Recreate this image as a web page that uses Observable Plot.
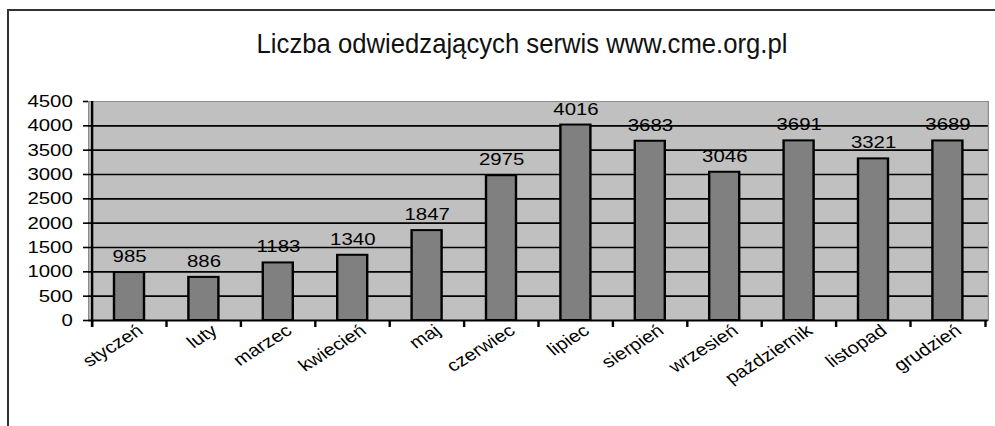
<!DOCTYPE html>
<html><head><meta charset="utf-8">
<script src="https://cdn.jsdelivr.net/npm/d3@7"></script>
<script src="https://cdn.jsdelivr.net/npm/@observablehq/plot@0.6"></script>
<style>
html,body{margin:0;padding:0;background:#fff;}
#wrap{position:relative;width:995px;height:426px;overflow:hidden;font-family:"Liberation Sans",Arial,sans-serif;}
#border{position:absolute;left:7px;top:9px;width:1100px;height:600px;border-left:2px solid #333;border-top:2px solid #333;}
#title{position:absolute;left:522px;top:30px;font-size:28px;line-height:28px;white-space:nowrap;color:#111;transform:translateX(-50%) scaleX(0.917);}
#chart{position:absolute;left:0;top:0;transform:scaleX(1.2);transform-origin:0 0;}
</style></head><body>
<div id="wrap"><div id="border"></div><div id="chart"></div><div id="title">Liczba odwiedzających serwis www.cme.org.pl</div></div>
<script>
const months = ["styczeń","luty","marzec","kwiecień","maj","czerwiec","lipiec","sierpień","wrzesień","październik","listopad","grudzień"];
const visitors = [985, 886, 1183, 1340, 1847, 2975, 4016, 3683, 3046, 3691, 3321, 3689];
const yTicks = [0, 500, 1000, 1500, 2000, 2500, 3000, 3500, 4000, 4500];

const data = months.map((m, i) => ({month: m, value: visitors[i]}));
const gridTicks = yTicks.filter(v => v > 0 && v < 4500);
const yMax = yTicks[yTicks.length - 1];

const STRETCH = 1.2;
const W = Math.round(995 / STRETCH);
const mL = 88 / STRETCH, mR = 7 / STRETCH;
const half = (W - mL - mR) / months.length / 2;
const lineStyle = {stroke: "black", strokeWidth: 2};

const chart = Plot.plot({
  width: W, height: 426,
  marginLeft: mL, marginRight: mR, marginTop: 101, marginBottom: 106,
  style: {fontFamily: "'Liberation Sans', Arial, sans-serif", color: "black", background: "transparent", overflow: "visible"},
  x: {domain: months, paddingInner: 0.6, paddingOuter: 0.3},
  y: {domain: [0, yMax]},
  marks: [
    Plot.frame({fill: "#c0c0c0", stroke: "#8c8c8c"}),
    Plot.ruleY(gridTicks, {stroke: "black", strokeWidth: 1.6}),
    Plot.barY(data, {x: "month", y: "value", fill: "#808080", stroke: "black", strokeWidth: 2}),
    Plot.ruleY([0], lineStyle),
    Plot.ruleX(months.slice(0, 1), {x: d => d, dx: -half, y1: yMax, y2: 0, insetBottom: -7, ...lineStyle}),
    Plot.ruleX(months, {x: d => d, dx: -half, y1: 0, y2: 0, insetBottom: -7, ...lineStyle}),
    Plot.ruleX(months.slice(-1), {x: d => d, dx: half, y1: 0, y2: 0, insetBottom: -7, ...lineStyle}),
    Plot.axisY({ticks: yTicks, tickSize: 5 / STRETCH, tickPadding: 9, fontSize: 17, label: null, tickFormat: d => String(d), strokeWidth: 1.6}),
    Plot.axisX({tickSize: 0, tickRotate: -37, fontSize: 17, label: null, tickPadding: 8, dx: 9}),
    Plot.text(data, {x: "month", y: "value", text: d => String(d.value), dy: -16, fontSize: 17, fill: "black"})
  ]
});
document.getElementById("chart").appendChild(chart);
</script>
</body></html>
